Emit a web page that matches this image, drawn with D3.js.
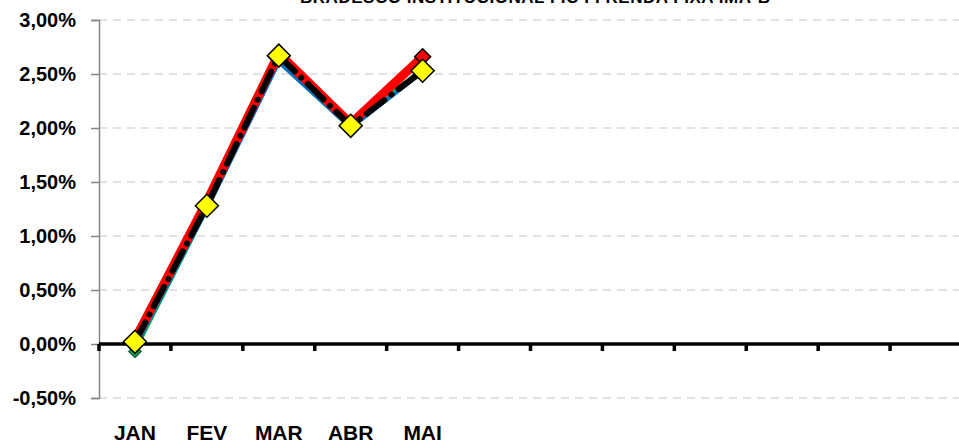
<!DOCTYPE html>
<html lang="pt">
<head>
<meta charset="UTF-8">
<title>Rentabilidade</title>
<script src="https://cdn.jsdelivr.net/npm/d3@7"></script>
<style>
  body { margin: 0; background: #fff; }
  text { font-family: "Liberation Sans", Arial, sans-serif; font-weight: bold; }
</style>
</head>
<body>
<div id="chart"></div>
<script>
  // meses (só os cinco primeiros têm rótulo)
  const months = ["JAN", "FEV", "MAR", "ABR", "MAI", "JUN", "JUL", "AGO", "SET", "OUT", "NOV", "DEZ"]
  const monthLabels = ["JAN", "FEV", "MAR", "ABR", "MAI", "", "", "", "", "", "", ""]
  const yTicks = [-0.5, 0, 0.5, 1, 1.5, 2, 2.5, 3]

  // séries (% acumulado)
  const greenVals = [-0.07, 1.24, 2.62, 2.05, 2.55]
  const blueVals = [-0.03, 1.25, 2.61, 2.00, 2.52]
  const redVals = [0.04, 1.32, 2.69, 2.04, 2.66]
  const blackVals = [0.02, 1.28, 2.67, 2.02, 2.53]

  const title = "BRADESCO INSTITUCIONAL FIC FI RENDA FIXA IMA-B"

  const width = 959, height = 443
  const margin = { top: 20, left: 99, bottom: 45 }

  const svg = d3.select("#chart").append("svg")
    .attr("width", width).attr("height", height)

  const x = d3.scaleBand().domain(months).range([margin.left, 962])
  const y = d3.scaleLinear().domain([-0.5, 3]).range([398, 20])

  const fmt = v => v.toFixed(2).replace(".", ",") + "%"

  // título (cortado no topo, como na imagem original)
  svg.append("text")
    .attr("x", 535).attr("y", 3)
    .attr("text-anchor", "middle")
    .attr("font-size", 17)
    .attr("textLength", 470)
    .text(title)

  // grade
  svg.append("g").selectAll("line").data(yTicks.filter(d => d !== 0)).enter().append("line")
    .attr("x1", margin.left).attr("x2", width)
    .attr("y1", d => y(d)).attr("y2", d => y(d))
    .attr("stroke", "#d9d9d9").attr("stroke-width", 1.5)
    .attr("stroke-dasharray", "8 6")

  // eixo y
  const yAxis = svg.append("g")
    .attr("transform", `translate(${margin.left},0)`)
    .call(d3.axisLeft(y).tickValues(yTicks).tickFormat(fmt).tickSize(8).tickPadding(15))
  yAxis.select(".domain").attr("stroke", "#868686").attr("stroke-width", 1.5)
  yAxis.selectAll(".tick line").attr("stroke", "#868686").attr("stroke-width", 1.5)
  yAxis.selectAll(".tick text").attr("font-size", 20).attr("fill", "#000")
    .attr("font-family", "Liberation Sans, Arial, sans-serif").attr("font-weight", "bold")

  // eixo x no zero
  svg.append("line")
    .attr("x1", margin.left).attr("x2", width)
    .attr("y1", y(0)).attr("y2", y(0))
    .attr("stroke", "#000").attr("stroke-width", 3.5)
  const bounds = d3.range(months.length + 1).map(i => margin.left + i * x.step())
  svg.append("g").selectAll("line").data(bounds).enter().append("line")
    .attr("x1", d => d).attr("x2", d => d)
    .attr("y1", y(0)).attr("y2", y(0) + 7)
    .attr("stroke", "#000").attr("stroke-width", 3.5)

  svg.append("g").selectAll("text").data(months).enter().append("text")
    .attr("x", d => x(d) + x.bandwidth() / 2)
    .attr("y", 440)
    .attr("text-anchor", "middle")
    .attr("font-size", 21)
    .text((d, i) => monthLabels[i])

  const cx = i => x(months[i]) + x.bandwidth() / 2
  const line = d3.line().x((d, i) => cx(i)).y(d => y(d))

  const drawLine = (vals, color, w, dash) => {
    const p = svg.append("path").datum(vals)
      .attr("d", line)
      .attr("fill", "none")
      .attr("stroke", color)
      .attr("stroke-width", w)
      .attr("stroke-linejoin", "round")
    if (dash) p.attr("stroke-dasharray", dash).attr("stroke-linecap", "round")
    return p
  }

  const diamond = (px, py, r, fill, stroke, sw) => {
    svg.append("path")
      .attr("d", `M${px},${py - r}L${px + r},${py}L${px},${py + r}L${px - r},${py}Z`)
      .attr("fill", fill).attr("stroke", stroke).attr("stroke-width", sw)
  }

  drawLine(greenVals, "#00b050", 3)
  diamond(cx(0), y(greenVals[0]), 6, "#00b050", "#1f5f3a", 1.5)
  drawLine(blueVals, "#0070c0", 4)
  drawLine(redVals, "#ff0000", 9)
  diamond(cx(4), y(redVals[4]), 8, "#ff0000", "#000", 1.5)
  drawLine(blackVals, "#000", 6, "22 9 0.1 9")

  blackVals.forEach((v, i) => diamond(cx(i), y(v), 11.5, "#ffff00", "#000", 1.5))
</script>
</body>
</html>
